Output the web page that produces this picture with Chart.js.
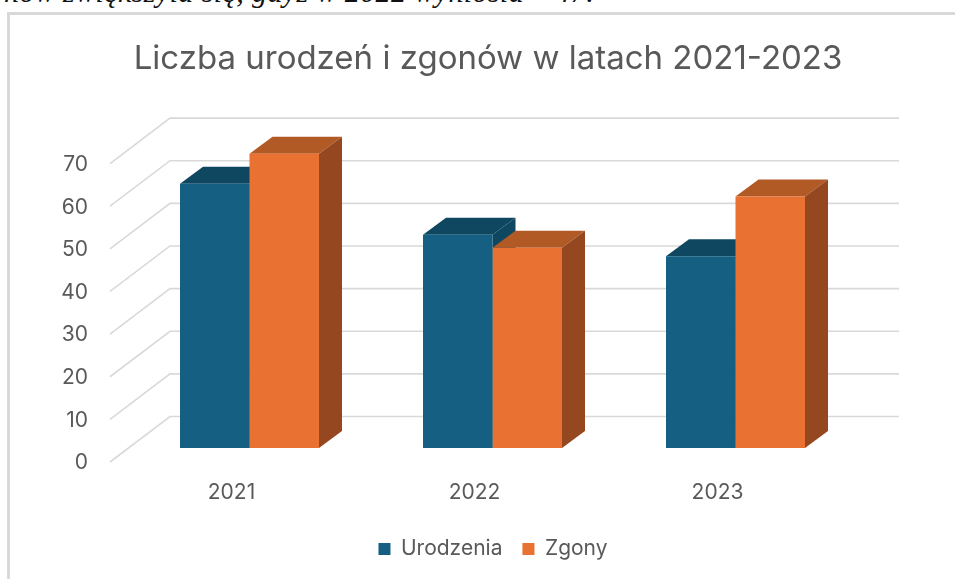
<!DOCTYPE html>
<html lang="pl">
<head>
<meta charset="utf-8">
<style>
html,body{margin:0;padding:0;background:#fff;width:955px;height:579px;overflow:hidden}
#clip{position:absolute;left:4px;top:-25px;white-space:nowrap;font:italic 30px "Liberation Serif",serif;letter-spacing:.4px;color:#111}
#frame{position:absolute;left:7px;top:12px;width:960px;height:580px;border-left:3px solid #d9d9d9;border-top:3px solid #d9d9d9;box-sizing:border-box}
#wrap{position:absolute;left:0;top:0;width:955px;height:579px}
</style>
<script src="https://cdn.jsdelivr.net/npm/chart.js@4"></script>
</head>
<body>
<div id="clip">nów zwiększyła się, gdyż w 2022 wyniosła – 47.</div>
<div id="frame"></div>
<div id="wrap"><canvas id="c" width="955" height="579"></canvas></div>
<script>
const categories = ['2021', '2022', '2023'];
const urodzenia = [62, 50, 45];
const zgony = [69, 47, 59];
const chartTitle = 'Liczba urodzeń i zgonów w latach 2021-2023';
const seriesNames = ['Urodzenia', 'Zgony'];

const FRONT = ['#156082', '#E97132'];
const TOP = ['#0F4761', '#B25A26'];
const SIDE = ['#0F4761', '#95471F'];
const GRID = '#d9d9d9';
const TEXT = '#595959';
const FONT = 'Inter, "Open Sans", sans-serif';

const box3d = {
  id: 'box3d',
  afterLayout(chart) {
    chart.legend.left += 5;
    chart.legend.right += 5;
  },
  beforeDatasetsDraw(chart) {
    const {ctx, scales: {y}, chartArea: a} = chart;
    const wallLeft = a.left + 42, wallRight = a.right + 42, wallUp = 31.5;
    const frontLeft = a.left - 18, frontDown = 14;
    ctx.save();
    ctx.strokeStyle = GRID; ctx.lineWidth = 1.6;
    y.ticks.forEach(t => {
      const p = y.getPixelForValue(t.value);
      ctx.beginPath();
      ctx.moveTo(frontLeft, p + frontDown);
      ctx.lineTo(wallLeft, p - wallUp);
      ctx.lineTo(wallRight, p - wallUp);
      ctx.stroke();
    });
    const dx = 23, dy = 17;
    chart.data.datasets.forEach((ds, i) => {
      chart.getDatasetMeta(i).data.forEach(b => {
        const L = b.x - b.width / 2, R = b.x + b.width / 2, T = b.y, B = b.base;
        ctx.fillStyle = TOP[i];
        ctx.beginPath();
        ctx.moveTo(L, T); ctx.lineTo(L + dx, T - dy); ctx.lineTo(R + dx, T - dy); ctx.lineTo(R, T);
        ctx.closePath(); ctx.fill();
        ctx.fillStyle = SIDE[i];
        ctx.beginPath();
        ctx.moveTo(R, T); ctx.lineTo(R + dx, T - dy); ctx.lineTo(R + dx, B - dy); ctx.lineTo(R, B);
        ctx.closePath(); ctx.fill();
      });
    });
    ctx.restore();
  }
};

new Chart(document.getElementById('c'), {
  type: 'bar',
  plugins: [box3d],
  data: {
    labels: categories,
    datasets: [
      {label: seriesNames[0], data: urodzenia, backgroundColor: FRONT[0], yAxisID: 'y'},
      {label: seriesNames[1], data: zgony, backgroundColor: FRONT[1], yAxisID: 'y'}
    ]
  },
  options: {
    responsive: false,
    animation: false,
    categoryPercentage: 0.572,
    barPercentage: 1,
    layout: {padding: {left: 21, right: 0, top: 39, bottom: 9.5}},
    scales: {
      x: {
        grid: {display: false, drawTicks: false},
        border: {display: false},
        ticks: {color: TEXT, font: {family: FONT, size: 21}, labelOffset: -18, padding: 32, maxRotation: 0},
        afterFit(s) { s.height = 70.5; }
      },
      y: {
        min: 0, max: 70,
        grid: {display: false, drawTicks: false},
        border: {display: false},
        ticks: {stepSize: 10, color: TEXT, font: {family: FONT, size: 21}, labelOffset: 15, padding: 40},
        afterFit(s) { s.width = 107; }
      },
      y2: {
        position: 'right',
        grid: {display: false, drawTicks: false},
        border: {display: false},
        ticks: {display: false},
        afterFit(s) { s.width = 98; }
      }
    },
    plugins: {
      tooltip: {enabled: false},
      title: {display: true, text: chartTitle, color: TEXT, font: {family: FONT, size: 33, weight: 'normal'}, padding: {top: 0, bottom: 71}},
      legend: {
        position: 'bottom',
        labels: {color: TEXT, font: {family: FONT, size: 21}, boxWidth: 12, boxHeight: 12, padding: 20}
      }
    }
  }
});
</script>
</body>
</html>
